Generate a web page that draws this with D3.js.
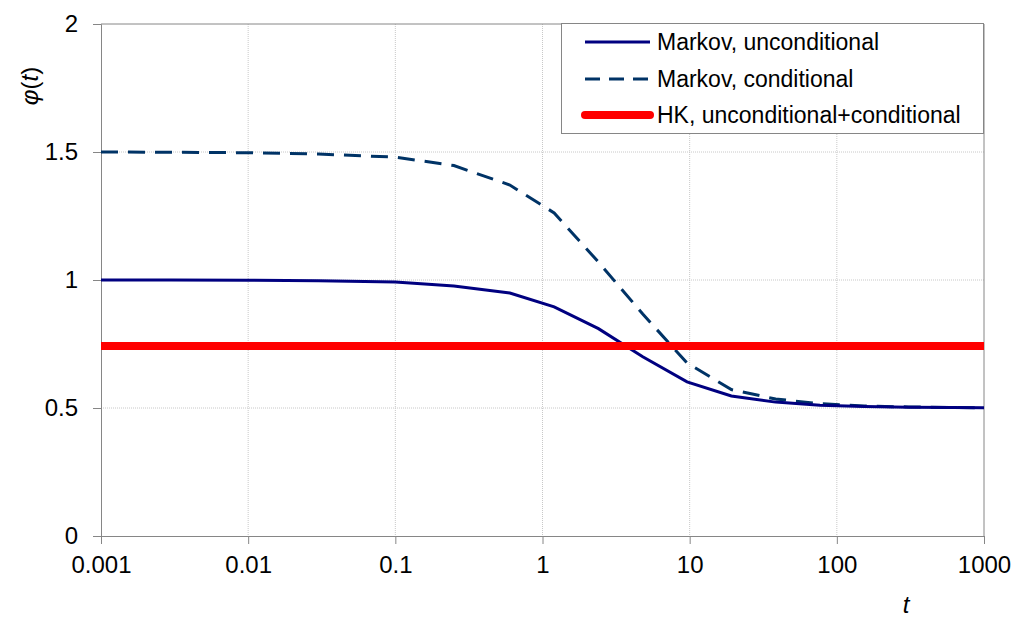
<!DOCTYPE html>
<html>
<head>
<meta charset="utf-8">
<script src="https://cdn.jsdelivr.net/npm/d3@7"></script>
<style>
  html, body { margin: 0; padding: 0; background: #fff; }
  svg { display: block; font-family: "Liberation Sans", Arial, sans-serif; }
</style>
</head>
<body>
<svg id="chart" width="1024" height="628"></svg>
<script>
// ---- data ----
const tValues = [0.001, 0.003, 0.01, 0.03, 0.1, 0.25, 0.6, 1.2, 2.4, 4.8, 9.6, 19.2, 38.4, 76.8, 153.6, 307, 614, 1000];
const markovUnconditional = [1.0, 1.0, 0.999, 0.997, 0.992, 0.977, 0.949, 0.895, 0.81, 0.70, 0.602, 0.547, 0.523, 0.511, 0.506, 0.503, 0.502, 0.501];
const markovConditional   = [1.5, 1.499, 1.497, 1.492, 1.48, 1.447, 1.371, 1.262, 1.07, 0.867, 0.676, 0.572, 0.535, 0.517, 0.508, 0.504, 0.502, 0.501];
const hkValue = 0.742;
const xTicks = [0.001, 0.01, 0.1, 1, 10, 100, 1000];
const xTickLabels = ["0.001", "0.01", "0.1", "1", "10", "100", "1000"];
const yTicks = [0, 0.5, 1, 1.5, 2];
const yTickLabels = ["0", "0.5", "1", "1.5", "2"];
const legendLabels = ["Markov, unconditional", "Markov, conditional", "HK, unconditional+conditional"];

(function () {
// ---- layout ----
const svg = d3.select("#chart");
const pLeft = 101, pRight = 984, pTop = 24, pBottom = 536;
const x = d3.scaleLog().domain([0.001, 1000]).range([pLeft, pRight]);
const y = d3.scaleLinear().domain([0, 2]).range([pBottom, pTop]);
const axisColor = "#868686";
const gridColor = "#c8c8c8";

// gridlines
svg.append("g").selectAll("line").data(xTicks.slice(1, -1)).join("line")
  .attr("x1", d => x(d)).attr("x2", d => x(d)).attr("y1", pTop).attr("y2", pBottom)
  .attr("stroke", gridColor).attr("stroke-width", 1).attr("stroke-dasharray", "1,1");
svg.append("g").selectAll("line").data(yTicks.slice(1, -1)).join("line")
  .attr("x1", pLeft).attr("x2", pRight).attr("y1", d => y(d)).attr("y2", d => y(d))
  .attr("stroke", gridColor).attr("stroke-width", 1).attr("stroke-dasharray", "1,1");

// plot border top & right
svg.append("line").attr("x1", pLeft).attr("x2", pRight).attr("y1", y(2)).attr("y2", y(2))
  .attr("stroke", axisColor).attr("stroke-width", 1);
svg.append("line").attr("x1", pRight).attr("x2", pRight).attr("y1", pTop).attr("y2", pBottom)
  .attr("stroke", axisColor).attr("stroke-width", 1);

// axes
const xAxis = d3.axisBottom(x).tickValues(xTicks).tickFormat((d, i) => xTickLabels[i]).tickSize(8).tickPadding(12);
const gx = svg.append("g").attr("transform", `translate(0,${pBottom})`).call(xAxis);
gx.select(".domain").attr("stroke", axisColor);
gx.selectAll(".tick line").attr("stroke", axisColor);
gx.selectAll(".tick text").attr("font-size", 24).attr("fill", "#000").attr("font-family", "Liberation Sans, Arial, sans-serif");

const yAxis = d3.axisLeft(y).tickValues(yTicks).tickFormat((d, i) => yTickLabels[i]).tickSize(8).tickPadding(15);
const gy = svg.append("g").attr("transform", `translate(${pLeft},0)`).call(yAxis);
gy.select(".domain").attr("stroke", axisColor);
gy.selectAll(".tick line").attr("stroke", axisColor);
gy.selectAll(".tick text").attr("font-size", 24).attr("fill", "#000").attr("font-family", "Liberation Sans, Arial, sans-serif");

// axis titles
svg.append("text").attr("transform", "translate(38,86) rotate(-90)")
  .attr("text-anchor", "middle").attr("font-size", 24).attr("fill", "#000")
  .html('<tspan font-style="italic">φ</tspan>(<tspan font-style="italic">t</tspan>)');
svg.append("text").attr("x", 906).attr("y", 613).attr("text-anchor", "middle")
  .attr("font-size", 24).attr("font-style", "italic").attr("fill", "#000").text("t");

// series
const line = d3.line().x(d => x(d[0])).y(d => y(d[1]));
const uncond = tValues.map((t, i) => [t, markovUnconditional[i]]);
const cond = tValues.map((t, i) => [t, markovConditional[i]]);

svg.append("path").datum(cond).attr("d", line).attr("fill", "none")
  .attr("stroke", "#003366").attr("stroke-width", 3).attr("stroke-dasharray", "17,10");
svg.append("path").datum(uncond).attr("d", line).attr("fill", "none")
  .attr("stroke", "#000080").attr("stroke-width", 3);
svg.append("path").datum([[0.001, hkValue], [1000, hkValue]]).attr("d", line).attr("fill", "none")
  .attr("stroke", "#ff0000").attr("stroke-width", 8);

// legend
const lg = svg.append("g");
lg.append("rect").attr("x", 561.5).attr("y", 23.5).attr("width", 422).attr("height", 110)
  .attr("fill", "#fff").attr("stroke", axisColor).attr("stroke-width", 1);
const legStyles = [
  {stroke: "#000080", w: 3, dash: null, cap: "butt"},
  {stroke: "#003366", w: 3, dash: "15,9", cap: "butt"},
  {stroke: "#ff0000", w: 8, dash: null, cap: "round"}
];
const rowY = [42, 79, 115];
legendLabels.forEach((lab, i) => {
  const s = legStyles[i];
  const ln = lg.append("line").attr("x1", 585).attr("x2", 650).attr("y1", rowY[i]).attr("y2", rowY[i])
    .attr("stroke", s.stroke).attr("stroke-width", s.w).attr("stroke-linecap", s.cap);
  if (s.dash) ln.attr("stroke-dasharray", s.dash);
  lg.append("text").attr("x", 657).attr("y", rowY[i]).attr("dy", "0.35em")
    .attr("font-size", 23).attr("fill", "#000").text(lab);
});
})();
</script>
</body>
</html>
